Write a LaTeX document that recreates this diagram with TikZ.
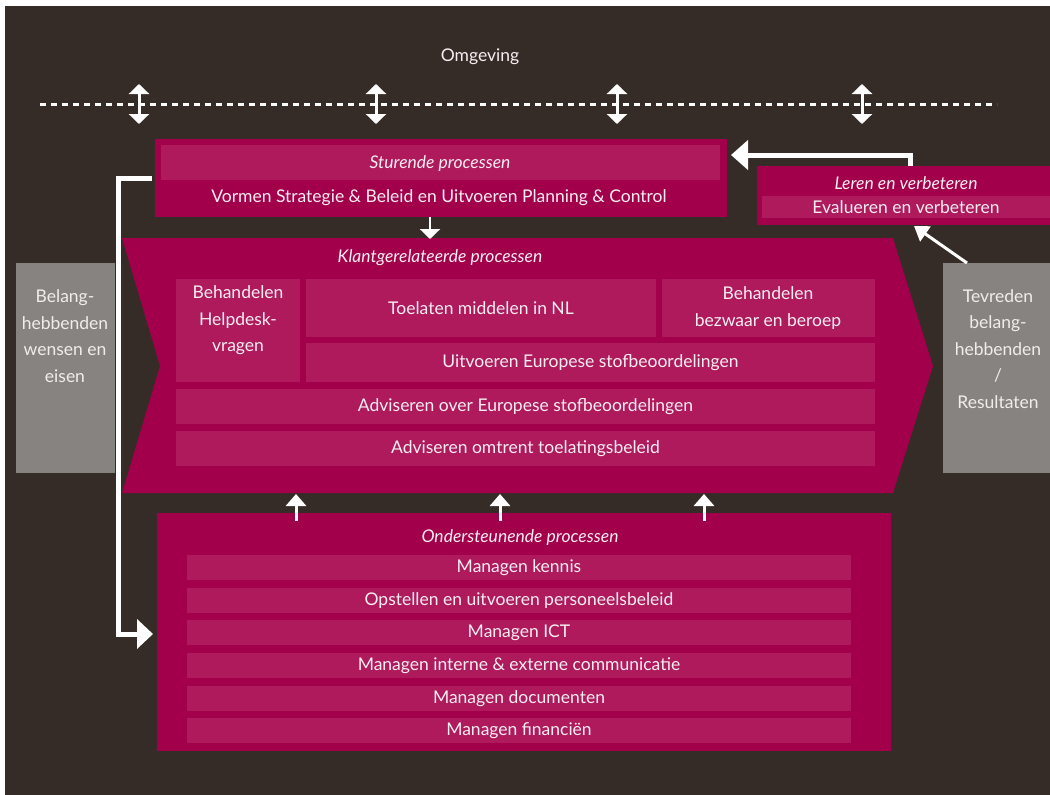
\documentclass[tikz,border=0pt]{standalone}
\usepackage{fontspec}
\setmainfont{Lato}
\usetikzlibrary{arrows.meta}
\definecolor{bgc}{HTML}{352B27}
\definecolor{mag}{HTML}{A2004A}
\definecolor{lmag}{HTML}{AE1A5C}
\definecolor{grayb}{HTML}{878380}
\definecolor{txt}{HTML}{F7EEF2}
\definecolor{gtxt}{HTML}{F0EDEA}
\newcommand{\rbox}[7]{\node[#1,minimum width={#4-#2},minimum height={#5-#3}] (#6) at ({(#2+#4)/2},{(#3+#5)/2}) {#7};}
\begin{document}
\begin{tikzpicture}[x=1pt,y=-1pt,
  base/.style={inner sep=0pt,outer sep=0pt,anchor=center,text=txt,align=center,font=\fontsize{17.5}{26.5}\selectfont},
  outerbox/.style={base,fill=mag},
  innerbox/.style={base,fill=lmag},
  graybox/.style={base,fill=grayb,text=gtxt},
  lbl/.style={inner sep=0pt,text=txt,align=center,font=\fontsize{17.5}{26.5}\selectfont},
  ilbl/.style={lbl,font=\fontsize{17.5}{20}\itshape\selectfont},
  dblarrow/.style={draw=white,line width=3pt,{Triangle[width=20pt,length=10pt]}-{Triangle[width=20pt,length=10pt]}},
  uparrow/.style={draw=white,line width=3pt,-{Triangle[width=20pt,length=12pt]}},
  fatarrow/.style={draw=white,line width=5pt,-{Triangle[width=29pt,length=16pt]}},
  thinarrow/.style={draw=white,line width=3pt,-{Triangle[width=18pt,length=14pt]}}
]
\useasboundingbox (0,0) rectangle (1050,795);
\fill[white] (0,0) rectangle (1050,795);
\fill[bgc] (5,6) rectangle (1050,795);

% Omgeving
\node[lbl] (omg) at (480,57) {Omgeving};
\draw[white,line width=3pt,dash pattern=on 6pt off 5pt] (40,104) -- (997,104);
\foreach \xx/\nm in {139/a,376/b,617/c,862/d}{
  \coordinate (t\nm) at (\xx,84);
  \coordinate (b\nm) at (\xx,124);
  \draw[dblarrow] (t\nm) -- (b\nm);
}

% Sturende processen
\rbox{outerbox}{155}{139}{727}{217}{stur}{}
\rbox{innerbox}{161}{145}{720}{180}{sturstrip}{}
\node[ilbl] (sturlbl) at (440,164) {Sturende processen};
\node[lbl] (sturtxt) at (439,198) {Vormen Strategie \& Beleid en Uitvoeren Planning \& Control};

% Leren en verbeteren
\rbox{outerbox}{757}{166}{1050}{225}{leren}{}
\rbox{innerbox}{762}{196}{1050}{218}{lerenstrip}{}
\node[ilbl] (lerenlbl) at (906,183) {Leren en verbeteren};
\node[lbl] (lerentxt) at (906,207) {Evalueren en verbeteren};

% gray boxes
\rbox{graybox}{16}{263}{115}{473}{links}{}
\node[lbl,text=gtxt] (linkstxt) at (65,336) {Belang-\\hebbenden\\wensen en\\eisen};
\rbox{graybox}{943}{263}{1050}{473}{rechts}{}
\node[lbl,text=gtxt] (rechtstxt) at (998,349) {Tevreden\\belang-\\hebbenden\\/\\Resultaten};

% Chevron
\fill[mag] (122,238) -- (893,238) -- (933,366) -- (893,493) -- (122,493) -- (160,366) -- cycle;
\node[ilbl] (klantlbl) at (440,258) {Klantgerelateerde processen};
\rbox{innerbox}{176}{279}{300}{382}{help}{}
\node[lbl] (helptxt) at (238,320.5) {Behandelen\\Helpdesk-\\vragen};
\rbox{innerbox}{306}{279}{656}{337}{toel}{Toelaten middelen in NL}
\rbox{innerbox}{662}{279}{875}{337}{bezw}{}
\node[lbl] (bezwtxt) at (768,308) {Behandelen\\bezwaar en beroep};
\rbox{innerbox}{306}{343}{875}{382}{uitv}{Uitvoeren Europese stofbeoordelingen}
\rbox{innerbox}{176}{389}{875}{424}{advo}{Adviseren over Europese stofbeoordelingen}
\rbox{innerbox}{176}{431}{875}{466}{advt}{Adviseren omtrent toelatingsbeleid}

% Ondersteunende processen
\rbox{outerbox}{157}{513}{891}{751}{onder}{}
\node[ilbl] (onderlbl) at (520,538) {Ondersteunende processen};
\rbox{innerbox}{187}{555}{851}{580}{r1}{Managen kennis}
\rbox{innerbox}{187}{588}{851}{613}{r2}{Opstellen en uitvoeren personeelsbeleid}
\rbox{innerbox}{187}{620}{851}{645}{r3}{Managen ICT}
\rbox{innerbox}{187}{653}{851}{678}{r4}{Managen interne \& externe communicatie}
\rbox{innerbox}{187}{686}{851}{711}{r5}{Managen documenten}
\rbox{innerbox}{187}{718}{851}{743}{r6}{Managen financiën}

% connectors
\coordinate (sturbot) at (430,217);
\coordinate (klanttop) at (430,239);
\draw[draw=white,line width=2.5pt,-{Triangle[width=20pt,length=10pt]}] (sturbot) -- (klanttop);

\foreach \xx/\nm in {296/p,500/q,704/r}{
  \coordinate (us\nm) at (\xx,521);
  \coordinate (ue\nm) at (\xx,494);
  \draw[uparrow] (us\nm) -- (ue\nm);
}

\coordinate (brtop) at (152,178);
\coordinate (brend) at (153,634);
\draw[fatarrow] (brtop) -- (118,178) -- (118,634) -- (brend);

\coordinate (lerentop) at (910,166);
\coordinate (sturright) at (731,155);
\draw[fatarrow,-{Triangle[width=29pt,length=17pt]}] (lerentop) -- (910,155) -- (sturright);

\coordinate (rechtstop) at (967,263);
\coordinate (lerenbot) at (914,226);
\draw[thinarrow] (rechtstop) -- (lerenbot);
\end{tikzpicture}
\end{document}
